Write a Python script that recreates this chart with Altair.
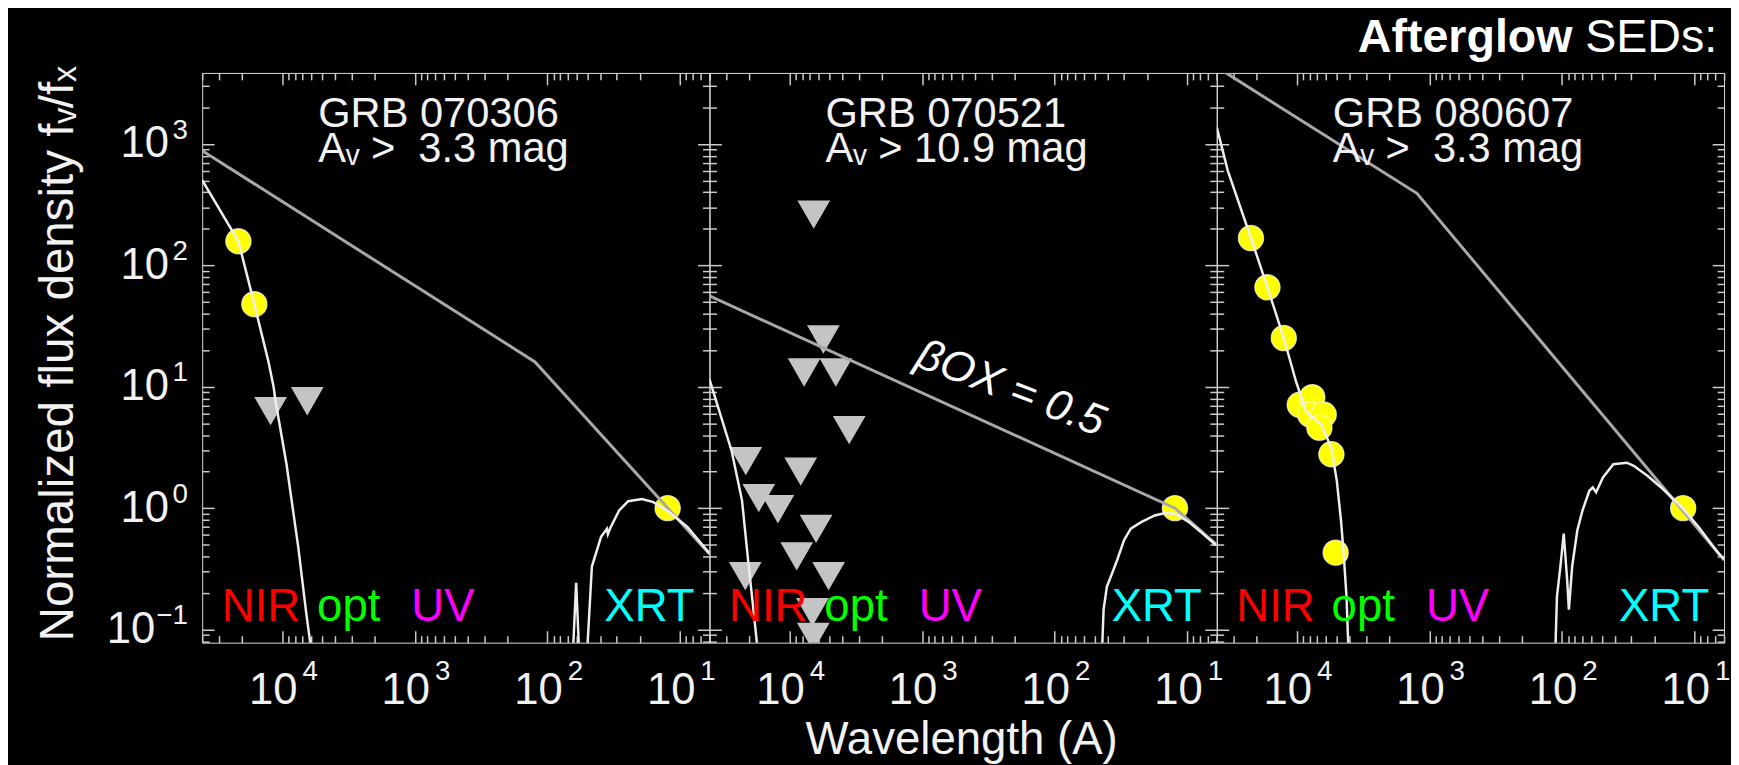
import altair as alt
import pandas as pd

FONT = "Liberation Sans, Arial, Helvetica, sans-serif"
FG = "#f2f2f2"
FRAME = "#cccccc"
MODEL_GRAY = "#a8a8a8"
CURVE_WHITE = "#eeeeee"
DET_YELLOW = "#ffff00"
LIM_GRAY = "#c4c4c4"

PANEL_W, PANEL_H = 512, 575
X_DOMAIN = [6, 40000]
Y_DOMAIN = [0.078, 3850]

X_MAJOR = [10, 100, 1000, 10000]
X_MINOR = [m * 10 ** e for e in range(0, 5) for m in range(2, 10) if 6 <= m * 10 ** e <= 40000]
Y_MAJOR = [0.1, 1, 10, 100, 1000]
Y_MINOR = [round(m * 10.0 ** e, 6) for e in range(-2, 4) for m in range(2, 10)
           if 0.078 <= m * 10.0 ** e <= 3850]

TITLE_BOLD = "Afterglow"
TITLE_REST = "SEDs:"
Y_TITLE = "Normalized flux density f\u1d65/f\u2093"
X_TITLE = "Wavelength (A)"

GRB_NAMES = ["GRB 070306", "GRB 070521", "GRB 080607"]
AV_LIMITS = [3.3, 10.9, 3.3]
NAME_LAM = 5340
NAME_F = 1381

BAND_NAMES = ["NIR", "opt", "UV", "XRT"]
BAND_LAM = [28500, 5450, 1060, 37.2]
BAND_COLORS = ["#ff0000", "#00ff00", "#ff00ff", "#00ffff"]
BAND_F = 0.1165

BETA_TEXT = "\u03b2OX = 0.5"
BETA_LAM = 215
BETA_F = 9.6

# ---- GRB 070306 ----
P1_MODEL_LAM = [40000, 124, 6]
P1_MODEL_F = [880, 16, 0.42]
P1_OPT_LAM = [40000, 21330, 16180, 12650, 11590, 11190, 9270, 7550, 6580, 6140, 5890]
P1_OPT_F = [504, 158, 47.9, 16.0, 10.0, 7.57, 2.32, 0.478, 0.138, 0.0785, 0.056]
P1_XR_LAM = [64.4, 60.7, 57.5, 50.4, 46.2, 39.4, 35.6, 35.0, 33.7, 28.8, 24.6, 19.4, 15.9, 12.1, 8.81, 5.94]
P1_XR_F = [0.06, 0.243, 0.06, 0.06, 0.33, 0.58, 0.676, 0.61, 0.68, 0.957, 1.14, 1.19, 1.12, 0.93, 0.70, 0.42]
P1_DET_LAM = [21330, 16180, 12.4]
P1_DET_F = [158, 47.9, 1.0]
P1_LIM_LAM = [12200, 6460]
P1_LIM_F = [6.3, 7.6]

# ---- GRB 070521 ----
P2_MODEL_LAM = [40000, 12.4, 6]
P2_MODEL_F = [56, 1.0, 0.50]
P2_OPT_LAM = [40000, 27230, 22750, 20230, 18540, 17000]
P2_OPT_F = [11.5, 2.96, 1.16, 0.33, 0.137, 0.055]
P2_XR_LAM = [44.1, 42.8, 40.4, 36.9, 33.8, 30.0, 26.7, 22.3, 17.6, 14.7, 12.3, 9.73, 7.67, 6.07]
P2_XR_F = [0.06, 0.146, 0.226, 0.291, 0.374, 0.545, 0.678, 0.767, 0.871, 0.910, 0.90, 0.767, 0.618, 0.495]
P2_DET_LAM = [12.4]
P2_DET_F = [1.0]
P2_LIM_LAM = [6550, 5540, 7740, 4465, 3540, 21300, 8210, 17000, 12200, 6290, 8800, 5060, 21500, 6700, 6600]
P2_LIM_F = [262, 24.5, 13.1, 13.1, 4.4, 2.44, 2.0, 1.21, 0.98, 0.675, 0.40, 0.275, 0.275, 0.139, 0.087]

# ---- GRB 080607 ----
P3_MODEL_LAM = [40000, 1240, 6]
P3_MODEL_F = [4300, 392, 0.374]
P3_OPT_LAM = [40000, 33100, 22100, 16600, 12500, 10100, 8470, 6500, 5470, 4980, 4630, 4420, 4210, 4050]
P3_OPT_F = [1375, 607, 168, 66, 25.2, 11.0, 6.24, 4.86, 3.13, 1.68, 0.79, 0.42, 0.187, 0.06]
P3_XR_LAM = [112.5, 109.1, 102.8, 97.0, 91.4, 88.7, 83.8, 76.6, 70.0, 62.2, 58.6, 55.3, 49.1, 41.0,
             32.4, 28.8, 22.7, 17.9, 15.0, 12.2, 9.33, 6.55, 5.89]
P3_XR_F = [0.06, 0.187, 0.33, 0.618, 0.257, 0.146, 0.33, 0.658, 0.957, 1.39, 1.48, 1.35, 1.79, 2.30,
           2.37, 2.23, 1.85, 1.48, 1.23, 0.99, 0.70, 0.42, 0.374]
P3_DET_LAM = [22100, 16600, 12500, 9480, 7620, 7900, 6250, 6740, 5470, 5080, 12.2]
P3_DET_F = [168, 66, 25.2, 7.1, 8.2, 5.9, 5.9, 4.6, 2.78, 0.43, 1.0]
P3_LIM_LAM = []
P3_LIM_F = []


def xenc(axis=None):
    return alt.X("lam:Q", scale=alt.Scale(type="log", domain=X_DOMAIN, reverse=True, nice=False),
                 axis=axis)


def yenc(axis=None):
    return alt.Y("f:Q", scale=alt.Scale(type="log", domain=Y_DOMAIN, nice=False), axis=axis)


def tick_axis(orient, values, size):
    return alt.Axis(orient=orient, values=values, labels=False, ticks=True, tickSize=size,
                    offset=-size, tickColor=FRAME, tickWidth=1.5, domain=False, grid=False,
                    title=None)


def label_axis(orient, values, expr, size, padding, offset, align, baseline, **kw):
    kw.setdefault("title", None)
    return alt.Axis(orient=orient, values=values, labelExpr=expr, labelFontSize=size,
                    labelPadding=padding, labelOffset=offset, labelAlign=align,
                    labelBaseline=baseline, labelColor=FG, labelFont=FONT, labelFlush=False,
                    labelOverlap=False, ticks=False, tickSize=0, domain=False, grid=False, **kw)


ANCHOR = pd.DataFrame({"lam": [100.0], "f": [1.0]})


def axis_layer(xaxis, yaxis):
    return alt.Chart(ANCHOR).mark_point(opacity=0).encode(x=xenc(xaxis), y=yenc(yaxis))


def curve(lams, fs, color, width):
    df = pd.DataFrame({"lam": lams, "f": fs, "i": list(range(len(lams)))})
    return alt.Chart(df).mark_line(color=color, strokeWidth=width, clip=True).encode(
        x=xenc(), y=yenc(), order=alt.Order("i:Q"))


EXP_EXPR = "format(round(log(datum.value)/LN10), 'd')"


def panel(idx, mod_lam, mod_f, opt_lam, opt_f, xr_lam, xr_f, det_lam, det_f, lim_lam, lim_f):
    layers = []
    if lim_lam:
        lim = pd.DataFrame({"lam": lim_lam, "f": lim_f})
        layers.append(alt.Chart(lim).mark_point(shape="triangle-down", filled=True, size=1090,
                                                color=LIM_GRAY, opacity=1, clip=True)
                      .encode(x=xenc(), y=yenc()))
    det = pd.DataFrame({"lam": det_lam, "f": det_f})
    layers.append(alt.Chart(det).mark_circle(size=650, color=DET_YELLOW, opacity=1,
                                             stroke="#ffffff", strokeWidth=1.2, strokeOpacity=0.7)
                  .encode(x=xenc(), y=yenc()))
    layers.append(curve(mod_lam, mod_f, MODEL_GRAY, 3))
    layers.append(curve(opt_lam, opt_f, CURVE_WHITE, 2.5))
    layers.append(curve(xr_lam, xr_f, CURVE_WHITE, 2.5))

    # panel annotation: GRB name and extinction limit (two lines in one text)
    av_line = ("A\u1d65 > " + "%4.1f" % AV_LIMITS[idx] + " mag").replace(" ", "\u00a0")
    name_df = pd.DataFrame({"lam": [NAME_LAM], "f": [NAME_F],
                            "t": [GRB_NAMES[idx] + "\n" + av_line]})
    layers.append(alt.Chart(name_df).mark_text(align="left", baseline="alphabetic", fontSize=42,
                                               font=FONT, color=FG, lineBreak="\n",
                                               lineHeight=35)
                  .encode(x=xenc(), y=yenc(), text="t:N"))
    band_df = pd.DataFrame({"lam": BAND_LAM, "f": [BAND_F] * 4, "t": BAND_NAMES, "c": BAND_COLORS})
    layers.append(alt.Chart(band_df).mark_text(align="left", baseline="alphabetic", fontSize=46,
                                               font=FONT)
                  .encode(x=xenc(), y=yenc(), text="t:N", color=alt.Color("c:N", scale=None)))
    if idx == 1:
        beta_df = pd.DataFrame({"lam": [BETA_LAM], "f": [BETA_F], "t": [BETA_TEXT]})
        layers.append(alt.Chart(beta_df).mark_text(align="center", baseline="middle", fontSize=44,
                                                   font=FONT, fontStyle="italic", color="#ffffff",
                                                   angle=21)
                      .encode(x=xenc(), y=yenc(), text="t:N"))
    if idx == 2:
        ttl = pd.DataFrame({"b": [TITLE_BOLD], "r": [TITLE_REST]})
        layers.append(alt.Chart(ttl).mark_text(align="right", baseline="alphabetic", fontSize=47,
                                               fontWeight="bold", font=FONT, color="#ffffff")
                      .encode(x=alt.value(359), y=alt.value(-21), text="b:N"))
        layers.append(alt.Chart(ttl).mark_text(align="right", baseline="alphabetic", fontSize=47,
                                               font=FONT, color="#ffffff")
                      .encode(x=alt.value(505), y=alt.value(-21), text="r:N"))

    # axes: inward major/minor ticks on all four sides
    layers.append(axis_layer(tick_axis("bottom", X_MAJOR, 12), tick_axis("left", Y_MAJOR, 12)))
    layers.append(axis_layer(tick_axis("bottom", X_MINOR, 7), tick_axis("left", Y_MINOR, 7)))
    layers.append(axis_layer(tick_axis("top", X_MAJOR, 12), tick_axis("right", Y_MAJOR, 12)))
    layers.append(axis_layer(tick_axis("top", X_MINOR, 7), tick_axis("right", Y_MINOR, 7)))

    xkw = {}
    if idx == 1:
        xkw = dict(title=X_TITLE, titleFont=FONT, titleFontSize=46, titleFontWeight="normal",
                   titleColor=FG, titleX=254, titleY=112, titleAlign="center",
                   titleBaseline="alphabetic", titleAngle=0)
    x10 = label_axis("bottom", X_MAJOR, "'10'", 44, 26, -9.5, "center", "top", **xkw)
    xsup = label_axis("bottom", X_MAJOR, EXP_EXPR, 28, 15, 20, "left", "top")
    y10 = ysup = y10neg = None
    if idx == 0:
        y10 = label_axis("left", [1, 10, 100, 1000], "'10'", 44, 34, 0, "right", "middle",
                         title=Y_TITLE, titleFont=FONT, titleFontSize=48,
                         titleFontWeight="normal", titleColor=FG, titleX=-131, titleY=283,
                         titleAlign="center", titleBaseline="alphabetic", titleAngle=-90)
        ysup = label_axis("left", Y_MAJOR, EXP_EXPR, 28, 15, -14, "right", "middle")
        y10neg = label_axis("left", [0.1], "'10'", 44, 48, 0, "right", "middle")
    layers.append(axis_layer(x10, y10))
    layers.append(axis_layer(xsup, ysup))
    if y10neg is not None:
        layers.append(axis_layer(None, y10neg))

    return (alt.layer(*layers)
            .resolve_axis(x="independent", y="independent")
            .properties(width=PANEL_W, height=PANEL_H))


p1 = panel(0, P1_MODEL_LAM, P1_MODEL_F, P1_OPT_LAM, P1_OPT_F, P1_XR_LAM, P1_XR_F,
           P1_DET_LAM, P1_DET_F, P1_LIM_LAM, P1_LIM_F)
p2 = panel(1, P2_MODEL_LAM, P2_MODEL_F, P2_OPT_LAM, P2_OPT_F, P2_XR_LAM, P2_XR_F,
           P2_DET_LAM, P2_DET_F, P2_LIM_LAM, P2_LIM_F)
p3 = panel(2, P3_MODEL_LAM, P3_MODEL_F, P3_OPT_LAM, P3_OPT_F, P3_XR_LAM, P3_XR_F,
           P3_DET_LAM, P3_DET_F, P3_LIM_LAM, P3_LIM_F)

chart = (alt.hconcat(p1, p2, p3, spacing=0, bounds="flush")
         .properties(background="black",
                     padding={"left": 26, "top": 2, "right": 0, "bottom": 0})
         .configure_view(stroke=FRAME, strokeWidth=2)
         .configure(font=FONT))

chart.save("out.html", embed_options={"renderer": "svg", "actions": False})
